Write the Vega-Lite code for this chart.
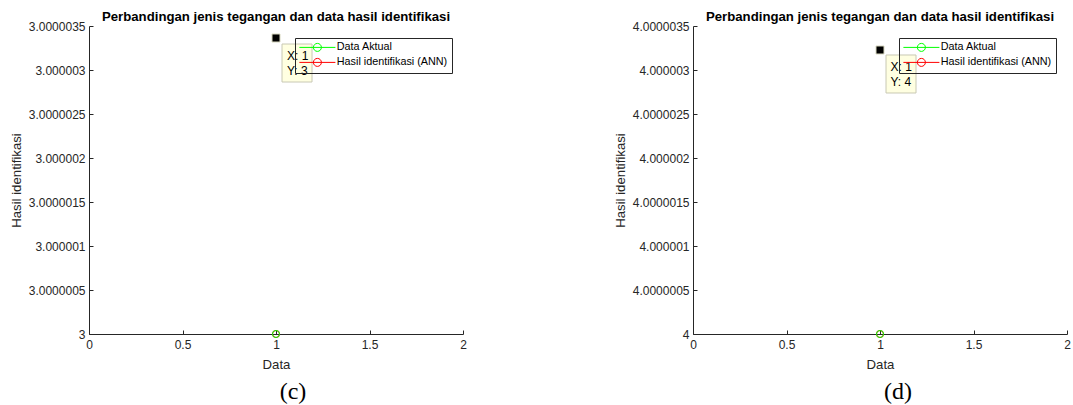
{
  "$schema": "https://vega.github.io/schema/vega-lite/v6.json",
  "padding": {"left": 9, "top": 9, "right": 0, "bottom": 0},
  "background": "#ffffff",
  "bounds": "flush",
  "spacing": 230,
  "resolve": {"scale": {"color": "independent", "x": "independent", "y": "independent"}, "legend": {"color": "independent"}},
  "hconcat": [
    {
      "width": 374,
      "height": 308,
      "title": {"text": "Perbandingan jenis tegangan dan data hasil identifikasi", "frame": "group", "anchor": "middle", "baseline": "alphabetic", "offset": -14, "fontSize": 13.2, "fontWeight": "bold", "font": "Liberation Sans", "color": "#000000"},
      "layer": [
        {
          "data": {"values": [
            {"series": "Hasil identifikasi (ANN)", "x": 1, "y": 3},
            {"series": "Data Aktual", "x": 1, "y": 3}
          ]},
          "mark": {"type": "point", "shape": "circle", "filled": false, "size": 50, "strokeWidth": 1, "opacity": 1},
          "encoding": {
            "x": {"field": "x", "type": "quantitative", "scale": {"domain": [0, 2], "zero": false, "nice": false},
                  "axis": {"values": [0, 0.5, 1, 1.5, 2], "format": ".1~f", "labelFlush": false, "tickSize": -4, "labelPadding": 9, "titlePadding": 8, "title": "Data"}},
            "y": {"field": "y", "type": "quantitative", "scale": {"domain": [3, 3.0000035], "zero": false, "nice": false},
                  "axis": {"values": [3, 3.0000005, 3.000001, 3.0000015, 3.000002, 3.0000025, 3.000003, 3.0000035], "format": ".7~f", "tickSize": -4, "labelPadding": 8, "titlePadding": 6, "minExtent": 60, "maxExtent": 60, "title": "Hasil identifikasi"}},
            "color": {"field": "series", "type": "nominal",
                      "scale": {"domain": ["Data Aktual", "Hasil identifikasi (ANN)"], "range": ["#00ff00", "#ff0000"]},
                      "legend": {"orient": "none", "legendX": 206, "legendY": 12, "title": null,
                                 "symbolType": "M-4.5,0H4.5M1,0A1,1 0 1 1 -1,0A1,1 0 1 1 1,0", "symbolSize": 64, "symbolStrokeWidth": 1,
                                 "symbolOffset": 13, "labelOffset": 14, "labelFontSize": 10.8, "labelFont": "Liberation Sans", "labelColor": "#000000",
                                 "strokeColor": "#262626", "fillColor": "transparent", "padding": 4, "rowPadding": 2}}
          }
        },
        {
          "data": {"values": [{"x": 1, "y": 3.0000033636, "tip": ["X: 1", "Y: 3"]}]},
          "encoding": {
            "x": {"field": "x", "type": "quantitative"},
            "y": {"field": "y", "type": "quantitative"}
          },
          "layer": [
            {"mark": {"type": "rect", "fill": "#ffffe1", "stroke": "#c8c8b4", "strokeWidth": 1, "xOffset": 6, "x2Offset": 36, "yOffset": 6, "y2Offset": 44},
             "encoding": {"x2": {"field": "x"}, "y2": {"field": "y"}}},
            {"mark": {"type": "point", "shape": "square", "size": 64, "filled": true, "fill": "#000000", "stroke": "#d8d8c0", "strokeWidth": 1, "opacity": 1}},
            {"mark": {"type": "text", "align": "left", "baseline": "middle", "dx": 11, "dy": 18, "lineHeight": 15, "fontSize": 12, "font": "Liberation Sans", "color": "#000000"},
             "encoding": {"text": {"field": "tip"}}}
          ]
        },
        {
          "data": {"values": [{"caption": "(c)"}]},
          "mark": {"type": "text", "align": "center", "baseline": "alphabetic", "dx": 17, "dy": 65, "fontSize": 24, "font": "Liberation Serif", "color": "#000000"},
          "encoding": {"x": {"datum": 1, "type": "quantitative"}, "y": {"datum": 3, "type": "quantitative"}, "text": {"field": "caption", "type": "nominal"}}
        }
      ]
    },
    {
      "width": 374,
      "height": 308,
      "title": {"text": "Perbandingan jenis tegangan dan data hasil identifikasi", "frame": "group", "anchor": "middle", "baseline": "alphabetic", "offset": -14, "fontSize": 13.2, "fontWeight": "bold", "font": "Liberation Sans", "color": "#000000"},
      "layer": [
        {
          "data": {"values": [
            {"series": "Hasil identifikasi (ANN)", "x": 1, "y": 4},
            {"series": "Data Aktual", "x": 1, "y": 4}
          ]},
          "mark": {"type": "point", "shape": "circle", "filled": false, "size": 50, "strokeWidth": 1, "opacity": 1},
          "encoding": {
            "x": {"field": "x", "type": "quantitative", "scale": {"domain": [0, 2], "zero": false, "nice": false},
                  "axis": {"values": [0, 0.5, 1, 1.5, 2], "format": ".1~f", "labelFlush": false, "tickSize": -4, "labelPadding": 9, "titlePadding": 8, "title": "Data"}},
            "y": {"field": "y", "type": "quantitative", "scale": {"domain": [4, 4.0000035], "zero": false, "nice": false},
                  "axis": {"values": [4, 4.0000005, 4.000001, 4.0000015, 4.000002, 4.0000025, 4.000003, 4.0000035], "format": ".7~f", "tickSize": -4, "labelPadding": 8, "titlePadding": 6, "minExtent": 60, "maxExtent": 60, "title": "Hasil identifikasi"}},
            "color": {"field": "series", "type": "nominal",
                      "scale": {"domain": ["Data Aktual", "Hasil identifikasi (ANN)"], "range": ["#00ff00", "#ff0000"]},
                      "legend": {"orient": "none", "legendX": 206, "legendY": 12, "title": null,
                                 "symbolType": "M-4.5,0H4.5M1,0A1,1 0 1 1 -1,0A1,1 0 1 1 1,0", "symbolSize": 64, "symbolStrokeWidth": 1,
                                 "symbolOffset": 13, "labelOffset": 14, "labelFontSize": 10.8, "labelFont": "Liberation Sans", "labelColor": "#000000",
                                 "strokeColor": "#262626", "fillColor": "transparent", "padding": 4, "rowPadding": 2}}
          }
        },
        {
          "data": {"values": [{"x": 1, "y": 4.0000032273, "tip": ["X: 1", "Y: 4"]}]},
          "encoding": {
            "x": {"field": "x", "type": "quantitative"},
            "y": {"field": "y", "type": "quantitative"}
          },
          "layer": [
            {"mark": {"type": "rect", "fill": "#ffffe1", "stroke": "#c8c8b4", "strokeWidth": 1, "xOffset": 6, "x2Offset": 36, "yOffset": 5, "y2Offset": 43},
             "encoding": {"x2": {"field": "x"}, "y2": {"field": "y"}}},
            {"mark": {"type": "point", "shape": "square", "size": 64, "filled": true, "fill": "#000000", "stroke": "#d8d8c0", "strokeWidth": 1, "opacity": 1}},
            {"mark": {"type": "text", "align": "left", "baseline": "middle", "dx": 10.5, "dy": 17, "lineHeight": 15, "fontSize": 12, "font": "Liberation Sans", "color": "#000000"},
             "encoding": {"text": {"field": "tip"}}}
          ]
        },
        {
          "data": {"values": [{"caption": "(d)"}]},
          "mark": {"type": "text", "align": "center", "baseline": "alphabetic", "dx": 18, "dy": 65, "fontSize": 24, "font": "Liberation Serif", "color": "#000000"},
          "encoding": {"x": {"datum": 1, "type": "quantitative"}, "y": {"datum": 4, "type": "quantitative"}, "text": {"field": "caption", "type": "nominal"}}
        }
      ]
    }
  ],
  "config": {
    "view": {"stroke": null},
    "axis": {"domainColor": "#262626", "tickColor": "#262626", "labelColor": "#262626", "titleColor": "#262626",
             "labelFont": "Liberation Sans", "titleFont": "Liberation Sans", "labelFontSize": 12, "titleFontSize": 13.2,
             "titleFontWeight": "normal", "grid": false, "domainWidth": 1, "tickWidth": 1}
  }
}
